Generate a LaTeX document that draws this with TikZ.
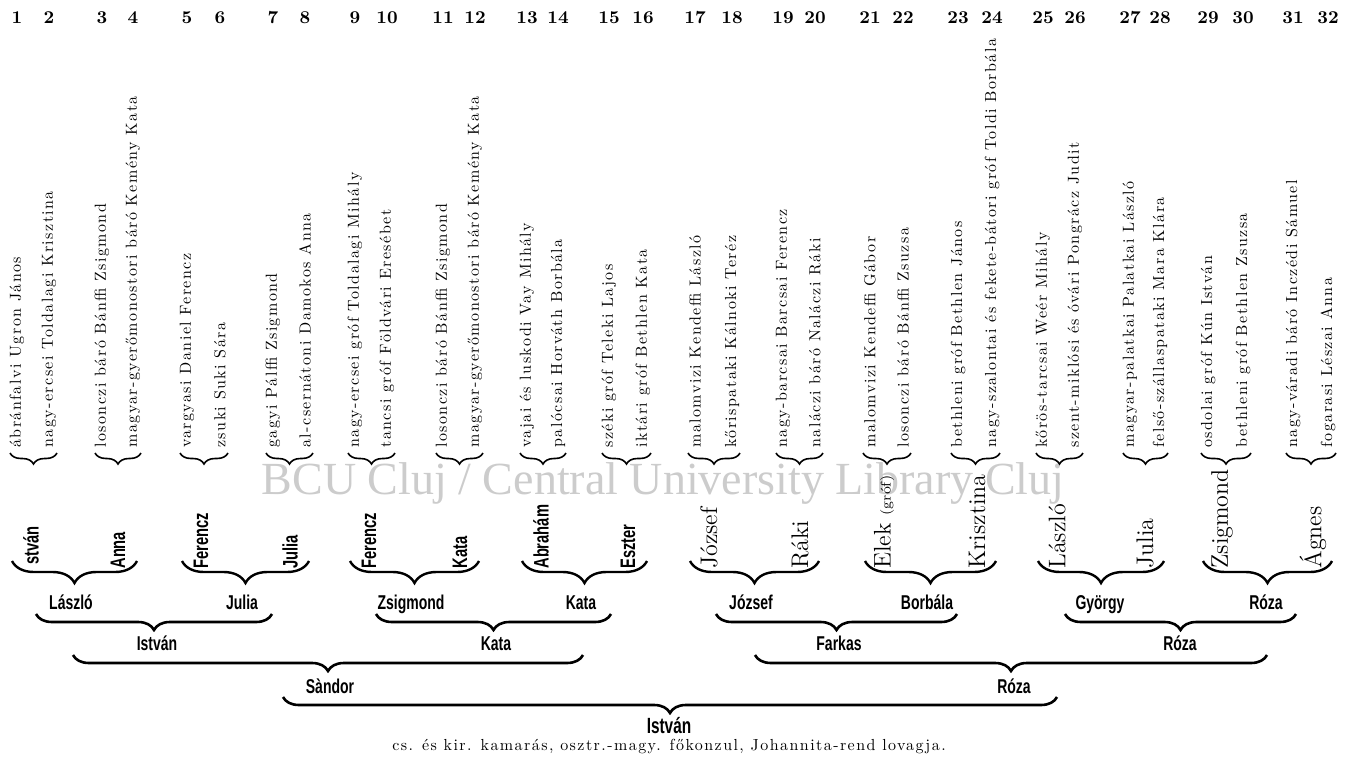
\documentclass[tikz,border=0pt]{standalone}
\usepackage{fontspec}
\usetikzlibrary{calc,decorations.pathreplacing}
\newfontfamily\condfont{Liberation Sans}[FakeStretch=0.7]
\newfontfamily\markfont{Liberation Serif}
\newfontfamily\spacedfont{lmroman10-regular.otf}[LetterSpace=9]
\newcommand\coltextfont{\spacedfont\fontsize{8}{9}\selectfont}
\newcommand\grandsans{\condfont\bfseries\fontsize{10.5}{12}\selectfont}
\newcommand\grandserif{\fontsize{12}{14}\selectfont}

\tikzset{
  colnum/.style={font=\bfseries\fontsize{9}{11}\selectfont, inner sep=0pt},
  coltext/.style={font=\coltextfont, rotate=90, anchor=west, inner sep=0pt},
  grandname/.style={rotate=90, anchor=west, inner sep=0pt},
  parentname/.style={font=\condfont\bfseries\fontsize{10}{12}\selectfont, anchor=base, inner sep=0pt},
  pairbrace/.style={decorate, decoration={brace, mirror, amplitude=5.5pt}, line width=0.8pt},
  grandbrace/.style={decorate, decoration={brace, mirror, amplitude=11pt}, line width=1.2pt},
  linebrace/.style={decorate, decoration={brace, mirror, amplitude=8pt}, line width=1.3pt}
}

\begin{document}
\begin{tikzpicture}[x=0.5pt, y={(0,-0.5pt)}]
        \useasboundingbox (0,0) rectangle (1350,756);

        % watermark of the scan
        \node[font=\markfont\fontsize{23}{26}\selectfont, text=black!20, anchor=base] (mark) at (663,494) {BCU Cluj / Central University Library Cluj};

        % the 32 ancestors
        \foreach \i/\x/\txt in {
            1/17/{ábránfalvi Ugron János},
            2/49/{nagy-ercsei Toldalagi Krisztina},
            3/102/{losonczi báró Bánffi Zsigmond},
            4/133/{magyar-gyerőmonostori báró Kemény Kata},
            5/187/{vargyasi Daniel Ferencz},
            6/220/{zsuki Suki Sára},
            7/273/{gagyi Pálffi Zsigmond},
            8/305/{al-csernátoni Damokos Anna},
            9/355/{nagy-ercsei gróf Toldalagi Mihály},
            10/387/{tancsi gróf Földvári Eresébet},
            11/443/{losonczi báró Bánffi Zsigmond},
            12/475/{magyar-gyerőmonostori báró Kemény Kata},
            13/527/{vajai és luskodi Vay Mihály},
            14/558/{palócsai Horváth Borbála},
            15/609/{széki gróf Teleki Lajos},
            16/643/{iktári gróf Bethlen Kata},
            17/695/{malomvizi Kendeffi László},
            18/732/{kőrispataki Kálnoki Teréz},
            19/783/{nagy-barcsai Barcsai Ferencz},
            20/815/{naláczi báró Naláczi Ráki},
            21/870/{malomvizi Kendeffi Gábor},
            22/903/{losonczi báró Bánffi Zsuzsa},
            23/958/{bethleni gróf Bethlen János},
            24/992/{nagy-szalontai és fekete-bátori gróf Toldi Borbála},
            25/1043/{kőrös-tarcsai Weér Mihály},
            26/1075/{szent-miklósi és óvári Pongrácz Judit},
            27/1130/{magyar-palatkai Palatkai László},
            28/1160/{felső-szállaspataki Mara Klára},
            29/1208/{osdolai gróf Kún István},
            30/1243/{bethleni gróf Bethlen Zsuzsa},
            31/1293/{nagy-váradi báró Inczédi Sámuel},
            32/1328/{fogarasi Lészai Anna}} {
            \node[colnum] (n\i) at (\x,18) {\i};
            \node[coltext] (t\i) at (\x,448) {\txt};
        }
        \foreach \a in {1,3,...,31} {
            \pgfmathtruncatemacro\nb{\a+1}
            \draw[pairbrace] ($(t\a.west)+(-7,5)$) -- ($(t\nb.west)+(8,5)$);
        }

        % great-grandparents
        \foreach \g/\xa/\xb/\fn/\sn/\fnt in {
            0/17/133/{\phantom{I}stván}/{Anna}/\grandsans,
            1/187/305/{Ferencz}/{Julia}/\grandsans,
            2/355/475/{Ferencz}/{Kata}/\grandsans,
            3/527/643/{Abrahám}/{Eszter}/\grandsans,
            4/695/815/{József}/{Ráki}/\grandserif,
            5/870/992/{Elek {\fontsize{7}{8}\selectfont(gróf)}}/{Krisztina}/\grandserif,
            6/1043/1160/{László}/{Julia}/\grandserif,
            7/1208/1328/{Zsigmond}/{Ágnes}/\grandserif} {
            \node[grandname, font=\fnt] (f\g) at (\xa+14,569) {\fn};
            \node[grandname, font=\fnt] (s\g) at (\xb-15,569) {\sn};
            \draw[grandbrace] ($(f\g.west)+(-19,-8)$) -- ($(s\g.west)+(19,-8)$);
        }

        % grandparents
        \node[parentname] (laszlo2) at (71,609) {László};
        \node[parentname] (julia2) at (242,609) {Julia};
        \node[parentname] (zsigmond2) at (411,609) {Zsigmond};
        \node[parentname] (kata2) at (581,609) {Kata};
        \node[parentname] (jozsef2) at (751,609) {József};
        \node[parentname] (borbala2) at (927,609) {Borbála};
        \node[parentname] (gyorgy2) at (1100,609) {György};
        \node[parentname] (roza2) at (1266,609) {Róza};
        \draw[linebrace] ($(laszlo2.base)+(-35,5)$) -- ($(julia2.base)+(30,5)$);
        \draw[linebrace] ($(zsigmond2.base)+(-35,5)$) -- ($(kata2.base)+(30,5)$);
        \draw[linebrace] ($(jozsef2.base)+(-35,5)$) -- ($(borbala2.base)+(30,5)$);
        \draw[linebrace] ($(gyorgy2.base)+(-35,5)$) -- ($(roza2.base)+(30,5)$);

        % parents
        \node[parentname] (istvan3) at (157,650) {István};
        \node[parentname] (kata3) at (496,650) {Kata};
        \node[parentname] (farkas3) at (839,650) {Farkas};
        \node[parentname] (roza3) at (1180,650) {Róza};
        \draw[linebrace] ($(istvan3.base)+(-84,5)$) -- ($(kata3.base)+(87,5)$);
        \draw[linebrace] ($(farkas3.base)+(-84,5)$) -- ($(roza3.base)+(87,5)$);

        \node[parentname] (sandor4) at (330,693) {Sàndor};
        \node[parentname] (roza4) at (1014,693) {Róza};
        \draw[linebrace] ($(sandor4.base)+(-47,4)$) -- ($(roza4.base)+(43,4)$);

        \node[parentname, font=\condfont\bfseries\fontsize{11}{13}\selectfont] (istvan5) at (669,733) {István};
        \node[font=\coltextfont, anchor=base, inner sep=0pt] (title) at (669,750) {cs. és kir. kamarás, osztr.-magy. főkonzul, Johannita-rend lovagja.};
    \end{tikzpicture}
\end{document}
